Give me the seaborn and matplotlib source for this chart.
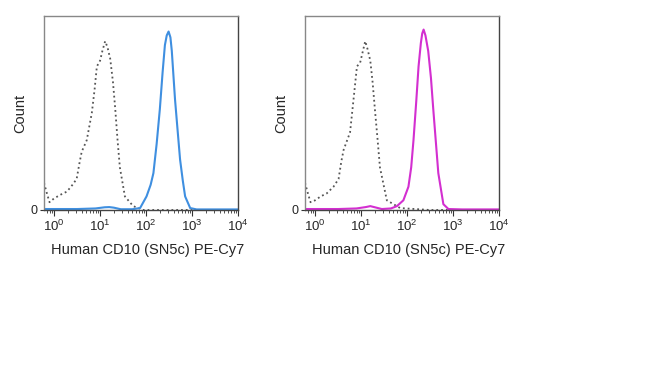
import numpy as np
import pandas as pd
import seaborn as sns
import matplotlib
matplotlib.use('Agg')
import matplotlib.pyplot as plt
from matplotlib.ticker import LogLocator, NullFormatter

sns.set_style("white")
plt.rcParams['font.family'] = ['Liberation Sans', 'DejaVu Sans']
plt.rcParams['mathtext.fontset'] = 'custom'
plt.rcParams['mathtext.rm'] = 'Liberation Sans'
plt.rcParams['mathtext.it'] = 'Liberation Sans'

# ------------ DATA (log10 fluorescence, normalised count) ------------ #
iso_log_1 = [-0.22, -0.15, -0.10, 0.00, 0.15, 0.28, 0.40, 0.49, 0.55, 0.60, 0.71, 0.82, 0.88,
             0.93, 1.00, 1.05, 1.11, 1.16, 1.22, 1.28, 1.33, 1.38, 1.43, 1.54, 1.72, 1.94, 2.5, 3.0, 3.5, 4.0]
iso_cnt_1 = [0.14, 0.08, 0.04, 0.06, 0.08, 0.095, 0.13, 0.16, 0.24, 0.30, 0.36, 0.50, 0.62,
             0.74, 0.77, 0.82, 0.87, 0.84, 0.78, 0.66, 0.52, 0.36, 0.22, 0.07, 0.02, 0.0, 0.0, 0.0, 0.0, 0.0]

cd10_log_1 = [-0.22, 0.5, 0.9, 1.1, 1.2, 1.3, 1.45, 1.7, 1.87, 2.01, 2.10, 2.16, 2.23, 2.30, 2.36,
              2.41, 2.45, 2.49, 2.53, 2.56, 2.63, 2.69, 2.74, 2.80, 2.85, 2.96, 3.1, 3.5, 4.0]
cd10_cnt_1 = [0.005, 0.005, 0.008, 0.014, 0.015, 0.012, 0.004, 0.004, 0.01, 0.07, 0.13, 0.19, 0.34, 0.52, 0.71,
              0.85, 0.90, 0.92, 0.89, 0.82, 0.57, 0.40, 0.26, 0.15, 0.07, 0.01, 0.003, 0.003, 0.003]

iso_log_2 = [-0.22, -0.15, -0.10, 0.00, 0.12, 0.25, 0.40, 0.51, 0.57, 0.62, 0.76, 0.84, 0.91,
             0.98, 1.04, 1.09, 1.14, 1.20, 1.25, 1.30, 1.36, 1.41, 1.56, 1.85, 2.5, 3.0, 3.5, 4.0]
iso_cnt_2 = [0.14, 0.08, 0.04, 0.05, 0.07, 0.085, 0.12, 0.16, 0.25, 0.31, 0.40, 0.58, 0.74,
             0.76, 0.82, 0.87, 0.83, 0.77, 0.66, 0.52, 0.36, 0.22, 0.05, 0.01, 0.0, 0.0, 0.0, 0.0]

cd10_log_2 = [-0.22, 0.5, 0.9, 1.1, 1.2, 1.3, 1.45, 1.65, 1.78, 1.92, 2.03, 2.09, 2.14, 2.20, 2.25,
              2.30, 2.33, 2.36, 2.40, 2.46, 2.52, 2.57, 2.63, 2.68, 2.79, 2.90, 3.2, 3.5, 4.0]
cd10_cnt_2 = [0.005, 0.005, 0.008, 0.015, 0.02, 0.014, 0.005, 0.008, 0.02, 0.05, 0.12, 0.22, 0.36, 0.56, 0.74,
              0.86, 0.91, 0.93, 0.90, 0.82, 0.68, 0.52, 0.34, 0.19, 0.03, 0.005, 0.003, 0.003, 0.003]

xlabel = 'Human CD10 (SN5c) PE-Cy7'
ylabel = 'Count'
colors = ['#3f8fe0', '#d32fd0']

panels = [
    (iso_log_1, iso_cnt_1, cd10_log_1, cd10_cnt_1, colors[0]),
    (iso_log_2, iso_cnt_2, cd10_log_2, cd10_cnt_2, colors[1]),
]

fig = plt.figure(figsize=(6.5, 3.77), dpi=100)
lefts = [44 / 650, 305 / 650]

for left, (ilog, icnt, slog, scnt, col) in zip(lefts, panels):
    ax = fig.add_axes([left, 167 / 377, 194 / 650, 194 / 377])
    iso = pd.DataFrame({'x': 10 ** np.array(ilog), 'y': icnt})
    stain = pd.DataFrame({'x': 10 ** np.array(slog), 'y': scnt})
    sns.lineplot(data=iso, x='x', y='y', ax=ax, color='#555555', linestyle=':', linewidth=1.3, sort=True)
    sns.lineplot(data=stain, x='x', y='y', ax=ax, color=col, linewidth=1.5, sort=True)

    ax.set_xscale('log')
    ax.set_xlim(10 ** -0.22, 1e4)
    ax.set_ylim(0, 1)
    ax.set_xticks([1, 10, 100, 1000, 10000])
    ax.xaxis.set_minor_locator(LogLocator(base=10, subs=np.arange(2, 10), numticks=20))
    ax.xaxis.set_minor_formatter(NullFormatter())
    ax.set_yticks([0])
    ax.set_yticklabels(['0'])
    ax.tick_params(axis='x', which='major', direction='out', length=4, width=0.8, color='#333333',
                   labelsize=9.5, pad=2, bottom=True)
    ax.tick_params(axis='x', which='minor', direction='out', length=2.5, width=0.6, color='#333333', bottom=True)
    ax.tick_params(axis='y', direction='out', length=3, width=0.8, color='#333333', labelsize=9, pad=2, left=True)
    for side, sp in ax.spines.items():
        sp.set_color('#444444' if side in ('bottom', 'right') else '#888888')
        sp.set_linewidth(1.0)
    ax.set_xlabel(xlabel, fontsize=10.5)
    ax.xaxis.set_label_coords(0.536, -0.17)
    ax.set_ylabel(ylabel, fontsize=10.5, labelpad=2)

plt.savefig('out.png', dpi=100)
